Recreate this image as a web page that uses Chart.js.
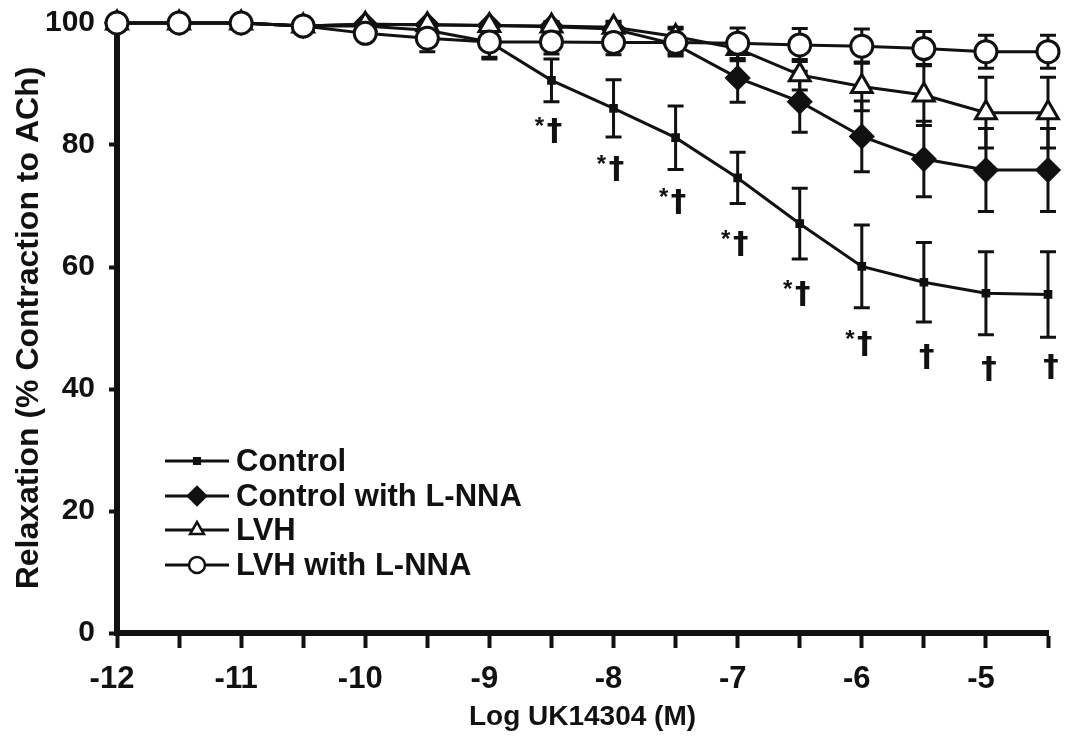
<!DOCTYPE html>
<html>
<head>
<meta charset="utf-8">
<script src="https://cdn.jsdelivr.net/npm/chart.js@4"></script>
<style>
  html, body { margin: 0; padding: 0; background: #fff; }
  #wrap { width: 1071px; height: 744px; }
</style>
</head>
<body>
<div id="wrap"><canvas id="chart" width="1071" height="744"></canvas></div>
<script>
/* DATA */
const logDose = [-12, -11.5, -11, -10.5, -10, -9.5, -9, -8.5, -8, -7.5, -7, -6.5, -6, -5.5, -5, -4.5]

const control = [100, 100, 100, 99.5, 99.5, 98.8, 96.9, 90.6, 86, 81.2, 74.6, 67.1, 60.1, 57.5, 55.7, 55.5]
const controlErr = [0, 0, 0, 0.5, 0.8, 1, 2.5, 3.5, 4.7, 5.2, 4.2, 5.8, 6.8, 6.5, 6.8, 7]

const controlLNNA = [100, 100, 100, 99.5, 99.8, 99.7, 99.6, 99.4, 99, 96.5, 91, 87.1, 81.4, 77.7, 75.9, 75.9]
const controlLNNAErr = [0, 0, 0, 0.3, 0.5, 0.5, 0.6, 0.8, 1, 1.5, 4, 5, 5.8, 6.2, 6.8, 6.8]

const lvh = [100, 100, 100, 99.5, 99.8, 99.7, 99.6, 99.5, 99.3, 97.8, 95.8, 91.5, 89.6, 88.2, 85.3, 85.3]
const lvhErr = [0, 0, 0, 0.3, 0.5, 0.5, 0.5, 0.7, 1, 1.5, 2, 2.5, 4, 5, 5.8, 5.8]

const lvhLNNA = [100, 100, 100, 99.5, 98.3, 97.5, 96.9, 96.9, 96.8, 96.8, 96.7, 96.4, 96.2, 95.8, 95.3, 95.3]
const lvhLNNAErr = [0, 0, 0, 0.5, 1, 2.2, 2.8, 2, 2, 2.2, 2.5, 2.7, 2.8, 2.8, 2.7, 2.7]

const seriesNames = ['Control', 'Control with L-NNA', 'LVH', 'LVH with L-NNA']

// significance marks: x position, y position (in %), whether a star goes in front of the dagger
const markX = [-8.5, -8, -7.5, -7, -6.5, -6, -5.5, -5, -4.5]
const markY = [82.1, 75.9, 70.5, 63.6, 55.4, 47.2, 45.1, 43.1, 43.4]
const markStar = [true, true, true, true, true, true, false, false, false]

const xTicksLabelled = [-12, -11, -10, -9, -8, -7, -6, -5]
const yTicks = [0, 20, 40, 60, 80, 100]

/* HELPERS */
const FONT = "'Liberation Sans', Arial, Helvetica, sans-serif"
const toPoints = (ys) => ys.map((y, i) => ({ x: logDose[i], y: y }))

function makeSet(label, values, errs, style, radius, fill, order) {
  return {
    label: label,
    data: toPoints(values),
    errors: errs,
    borderColor: '#111',
    borderWidth: 3,
    pointStyle: style,
    pointRadius: radius,
    pointHoverRadius: radius,
    pointBackgroundColor: fill,
    pointBorderColor: '#111',
    pointBorderWidth: 3,
    tension: 0,
    clip: false,
    order: order
  }
}

/* PLUGINS */
const errorBars = {
  id: 'errorBars',
  beforeDatasetsDraw(chart) {
    const ctx = chart.ctx
    const xs = chart.scales.x
    const ys = chart.scales.y
    ctx.save()
    ctx.strokeStyle = '#111'
    ctx.lineWidth = 3
    chart.data.datasets.forEach((ds) => {
      ds.data.forEach((p, i) => {
        const e = ds.errors[i]
        if (!e) return
        const px = xs.getPixelForValue(p.x)
        const top = ys.getPixelForValue(p.y + e)
        const bot = ys.getPixelForValue(p.y - e)
        ctx.beginPath()
        ctx.moveTo(px, top)
        ctx.lineTo(px, bot)
        ctx.moveTo(px - 8, top)
        ctx.lineTo(px + 8, top)
        ctx.moveTo(px - 8, bot)
        ctx.lineTo(px + 8, bot)
        ctx.stroke()
      })
    })
    ctx.restore()
  }
}

const marks = {
  id: 'marks',
  afterDatasetsDraw(chart) {
    const ctx = chart.ctx
    const xs = chart.scales.x
    const ys = chart.scales.y
    ctx.save()
    ctx.fillStyle = '#111'
    ctx.textAlign = 'center'
    ctx.textBaseline = 'middle'
    markX.forEach((mx, i) => {
      const px = xs.getPixelForValue(mx) + 3
      const py = ys.getPixelForValue(markY[i])
      ctx.font = "bold 31px 'DejaVu Sans', " + FONT
      ctx.fillText('\u2020', px, py)
      if (markStar[i]) {
        ctx.font = 'bold 24px ' + FONT
        ctx.fillText('*', px - 15, py - 5)
      }
    })
    ctx.restore()
  }
}

const legendBox = {
  id: 'legendBox',
  afterDraw(chart) {
    const ctx = chart.ctx
    const rows = [461, 496, 530, 565]
    const sizes = [4, 9, 8, 8]
    ctx.save()
    chart.data.datasets.forEach((ds, i) => {
      const y = rows[i]
      ctx.strokeStyle = '#111'
      ctx.lineWidth = 3
      ctx.beginPath()
      ctx.moveTo(165, y)
      ctx.lineTo(229, y)
      ctx.stroke()
      ctx.fillStyle = ds.pointBackgroundColor
      ctx.lineWidth = 2.5
      Chart.helpers.drawPoint(ctx, { pointStyle: ds.pointStyle, radius: sizes[i], borderWidth: 2.5, rotation: 0 }, 197, y)
      ctx.fillStyle = '#111'
      ctx.font = 'bold 31px ' + FONT
      ctx.textAlign = 'left'
      ctx.textBaseline = 'middle'
      ctx.fillText(seriesNames[i], 236, y + 1)
    })
    ctx.restore()
  }
}

/* CHART */
const ctx = document.getElementById('chart')

new Chart(ctx, {
  type: 'line',
  data: {
    datasets: [
      makeSet(seriesNames[0], control, controlErr, 'rect', 4, '#111', 3),
      makeSet(seriesNames[1], controlLNNA, controlLNNAErr, 'rectRot', 11, '#111', 2),
      makeSet(seriesNames[2], lvh, lvhErr, 'triangle', 12, '#fff', 1),
      makeSet(seriesNames[3], lvhLNNA, lvhLNNAErr, 'circle', 11, '#fff', 0)
    ]
  },
  options: {
    responsive: false,
    animation: false,
    events: [],
    layout: { padding: { left: 0, top: 23, right: 23, bottom: 0 } },
    plugins: {
      legend: { display: false },
      tooltip: { enabled: false }
    },
    scales: {
      x: {
        type: 'linear',
        min: -12,
        max: -4.5,
        afterFit: (scale) => {
          scale.height = 111
          scale.paddingLeft = 0
          scale.paddingRight = 0
        },
        afterBuildTicks: (scale) => {
          const t = []
          for (let v = -12; v <= -4.5; v += 0.5) t.push({ value: v })
          scale.ticks = t
        },
        ticks: {
          autoSkip: false,
          maxRotation: 0,
          padding: 13,
          labelOffset: -5,
          color: '#111',
          font: { family: FONT, size: 31, weight: 'bold' },
          callback: (v) => xTicksLabelled.includes(v) ? String(v) : ''
        },
        grid: {
          drawOnChartArea: false,
          drawTicks: true,
          tickLength: 15,
          tickWidth: 4,
          tickColor: '#111'
        },
        border: { display: true, color: '#111', width: 6 },
        title: {
          display: true,
          text: 'Log UK14304 (M)',
          color: '#111',
          font: { family: FONT, size: 28, weight: 'bold' },
          padding: { top: 0, bottom: 10 }
        }
      },
      y: {
        min: 0,
        max: 100,
        afterFit: (scale) => {
          scale.width = 117
          scale.paddingTop = 0
          scale.paddingBottom = 0
        },
        afterBuildTicks: (scale) => {
          scale.ticks = yTicks.map((v) => ({ value: v }))
        },
        ticks: {
          padding: 14,
          color: '#111',
          font: { family: FONT, size: 30, weight: 'bold' }
        },
        grid: {
          drawOnChartArea: false,
          drawTicks: true,
          tickLength: 8,
          tickWidth: 4,
          tickColor: '#111'
        },
        border: { display: true, color: '#111', width: 6 },
        title: {
          display: true,
          text: 'Relaxation (% Contraction to ACh)',
          color: '#111',
          font: { family: FONT, size: 32, weight: 'bold' },
          padding: { top: 10, bottom: 0 }
        }
      }
    }
  },
  plugins: [errorBars, marks, legendBox]
})
</script>
</body>
</html>
